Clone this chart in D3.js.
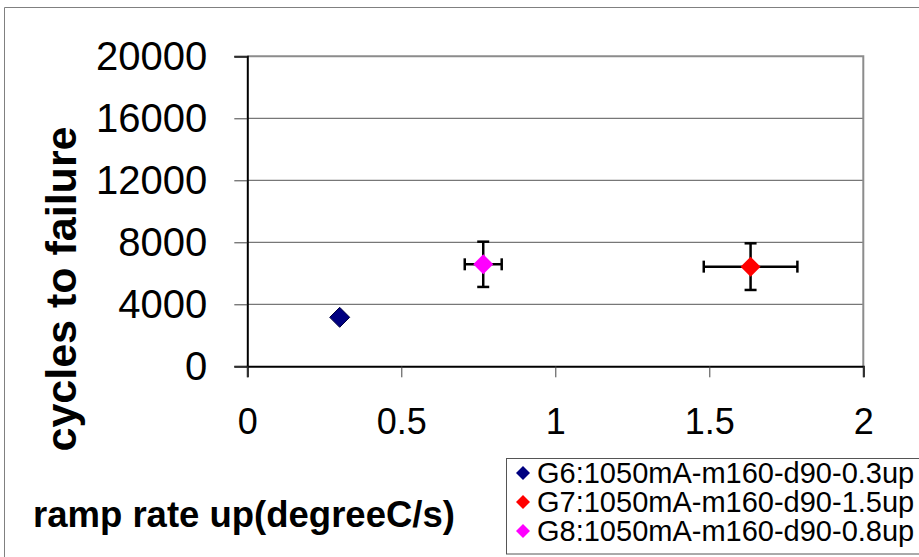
<!DOCTYPE html>
<html><head><meta charset="utf-8">
<script src="https://cdn.jsdelivr.net/npm/d3@7"></script>
<style>html,body{margin:0;padding:0;background:#fff;}svg{display:block;}</style>
</head><body>
<script>
const seriesNames = ["G6:1050mA-m160-d90-0.3up", "G7:1050mA-m160-d90-1.5up", "G8:1050mA-m160-d90-0.8up"];
const seriesColors = ["#000080", "#FF0000", "#FF00FF"];
const xValues = [0.3, 1.634, 0.766];
const yValues = [3160, 6430, 6580];
const xErrors = [0, 0.152, 0.06];
const yErrors = [0, 1505, 1460];
const yTicks = [0, 4000, 8000, 12000, 16000, 20000];
const xTicks = [0, 0.5, 1, 1.5, 2];
const xTitle = "ramp rate up(degreeC/s)";
const yTitle = "cycles to failure";

const W = 919, H = 557;
const svg = d3.select("body").append("svg").attr("width", W).attr("height", H);
const font = "'Liberation Sans', Arial, sans-serif";

// outer chart border
svg.append("path").attr("d", "M4.5,560 V7.5 H925").attr("fill", "none").attr("stroke", "#808080").attr("stroke-width", 1);

const L = 247.3, R = 863.3, T = 56.3, B = 366.3;
const x = d3.scaleLinear().domain([0, 2]).range([L, R]);
const y = d3.scaleLinear().domain([0, 20000]).range([B, T]);

// gridlines
svg.append("g").selectAll("line").data(yTicks.filter(d => d > 0 && d < 20000)).join("line")
  .attr("x1", L).attr("x2", R).attr("y1", d => y(d)).attr("y2", d => y(d))
  .attr("stroke", "#555").attr("stroke-width", 1);

// plot border top/right
svg.append("path").attr("d", `M${L},${T} H${R} V${B}`).attr("fill", "none").attr("stroke", "#8c8c8c").attr("stroke-width", 2);

// Y axis
const yAxis = d3.axisLeft(y).tickValues(yTicks).tickSize(13).tickPadding(27).tickFormat(d3.format("d"));
const gy = svg.append("g").attr("transform", `translate(${L},0)`).call(yAxis);
gy.select(".domain").attr("stroke", "#000").attr("stroke-width", 2);
gy.selectAll(".tick line").attr("stroke", "#444").attr("stroke-width", 1);
gy.selectAll(".tick text").attr("font-family", font).attr("font-size", 40).attr("fill", "#000");

// X axis
const xAxis = d3.axisBottom(x).tickValues(xTicks).tickSize(11).tickPadding(31).tickFormat(d => String(d));
const gx = svg.append("g").attr("transform", `translate(0,${B})`).call(xAxis);
gx.select(".domain").attr("stroke", "#000").attr("stroke-width", 2);
gx.selectAll(".tick line").attr("stroke", "#444").attr("stroke-width", 1);
gx.selectAll(".tick text").attr("font-family", font).attr("font-size", 36).attr("fill", "#000");

// error bars
const data = seriesNames.map((n, i) => ({n, c: seriesColors[i], x: xValues[i], y: yValues[i], ex: xErrors[i], ey: yErrors[i]}));
const eb = svg.append("g").attr("stroke", "#000").attr("stroke-width", 2.5).attr("fill", "none");
data.filter(d => d.ey > 0).forEach(d => {
  eb.append("line").attr("x1", x(d.x)).attr("x2", x(d.x)).attr("y1", y(d.y - d.ey)).attr("y2", y(d.y + d.ey));
  eb.append("line").attr("x1", x(d.x) - 6).attr("x2", x(d.x) + 6).attr("y1", y(d.y - d.ey)).attr("y2", y(d.y - d.ey));
  eb.append("line").attr("x1", x(d.x) - 6).attr("x2", x(d.x) + 6).attr("y1", y(d.y + d.ey)).attr("y2", y(d.y + d.ey));
});
data.filter(d => d.ex > 0).forEach(d => {
  eb.append("line").attr("x1", x(d.x - d.ex)).attr("x2", x(d.x + d.ex)).attr("y1", y(d.y)).attr("y2", y(d.y));
  eb.append("line").attr("x1", x(d.x - d.ex)).attr("x2", x(d.x - d.ex)).attr("y1", y(d.y) - 6).attr("y2", y(d.y) + 6);
  eb.append("line").attr("x1", x(d.x + d.ex)).attr("x2", x(d.x + d.ex)).attr("y1", y(d.y) - 6).attr("y2", y(d.y) + 6);
});

// markers
const diamond = r => `M0,${-r} L${r},0 L0,${r} L${-r},0 Z`;
svg.append("g").selectAll("path").data(data).join("path")
  .attr("transform", d => `translate(${x(d.x)},${y(d.y)})`)
  .attr("d", diamond(10)).attr("fill", d => d.c).attr("stroke", d => d.c === "#000080" ? "#000040" : "none").attr("stroke-width", 1);

// axis titles
svg.append("text").attr("x", 33).attr("y", 527).attr("font-family", font).attr("font-weight", "bold")
  .attr("font-size", 36.5).attr("fill", "#000").text(xTitle);
svg.append("text").attr("transform", "translate(76,289) rotate(-90)").attr("text-anchor", "middle")
  .attr("font-family", font).attr("font-weight", "bold").attr("font-size", 43).attr("fill", "#000").text(yTitle);

// legend
const lg = svg.append("g");
lg.append("rect").attr("x", 506.5).attr("y", 458.5).attr("width", 430).attr("height", 95.5)
  .attr("fill", "#fff").attr("stroke", "#555").attr("stroke-width", 1);
const legendOrder = [0, 1, 2];
legendOrder.forEach((i, k) => {
  const cy = 473 + k * 29;
  lg.append("path").attr("transform", `translate(523,${cy})`).attr("d", diamond(7)).attr("fill", seriesColors[i]);
  lg.append("text").attr("x", 537).attr("y", cy).attr("dy", "0.36em").attr("font-family", font)
    .attr("font-size", 29).attr("fill", "#000").text(seriesNames[i]);
});
</script>
</body></html>
